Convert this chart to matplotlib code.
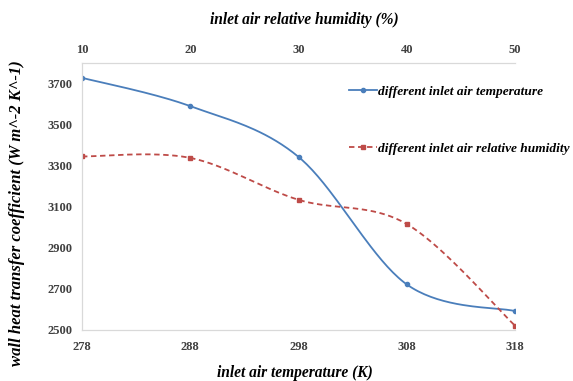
import numpy as np
import matplotlib.pyplot as plt

# inlet conditions
temperature_K = [278, 288, 298, 308, 318]
humidity_pct = [10, 20, 30, 40, 50]

# wall heat transfer coefficient (W m^-2 K^-1)
h_vs_temperature = [3728, 3590, 3343, 2722, 2592]
h_vs_humidity = [3345, 3338, 3134, 3016, 2521]

BLUE = "#4a7ebb"
RED = "#be4b48"


def smooth(x, y, n=40):
    # excel-style smoothed line: cubic bezier with catmull-rom tangents
    x = np.asarray(x, float)
    y = np.asarray(y, float)
    px = np.r_[x[0], x, x[-1]]
    py = np.r_[y[0], y, y[-1]]
    xs, ys = [], []
    t = np.linspace(0, 1, n)[:, None]
    for i in range(1, len(px) - 2):
        p0 = np.array([px[i], py[i]])
        p3 = np.array([px[i + 1], py[i + 1]])
        p1 = p0 + (np.array([px[i + 1], py[i + 1]]) - np.array([px[i - 1], py[i - 1]])) / 6
        p2 = p3 - (np.array([px[i + 2], py[i + 2]]) - np.array([px[i], py[i]])) / 6
        b = ((1 - t) ** 3) * p0 + 3 * ((1 - t) ** 2) * t * p1 + 3 * (1 - t) * t ** 2 * p2 + t ** 3 * p3
        xs.append(b[:, 0])
        ys.append(b[:, 1])
    return np.concatenate(xs), np.concatenate(ys)


plt.rcParams["font.family"] = ["Liberation Serif", "DejaVu Serif"]

fig = plt.figure(figsize=(5.73, 3.81), dpi=100)
ax = fig.add_axes([0.1431, 0.1339, 0.7557, 0.7007])
ax2 = ax.twiny()

sx, sy = smooth(temperature_K, h_vs_temperature)
ax.plot(sx, sy, color=BLUE, lw=1.3)
ax.plot(temperature_K, h_vs_temperature, "o", color=BLUE, ms=3)

hx, hy = smooth(humidity_pct, h_vs_humidity)
ax2.plot(hx, hy, color=RED, lw=1.3, ls=(0, (3, 2)))
ax2.plot(humidity_pct, h_vs_humidity, "s", color=RED, ms=3)

ax.set_xlim(278, 318)
ax2.set_xlim(10, 50)
ax.set_ylim(2500, 3800)
ax.set_xticks(temperature_K)
ax2.set_xticks(humidity_pct)
ax.set_yticks(np.arange(2500, 3800, 200))

tick_font = dict(fontsize=9, fontweight="bold", color="#404040")
ax.set_xticklabels([str(v) for v in temperature_K], **tick_font)
ax2.set_xticklabels([str(v) for v in humidity_pct], **tick_font)
ax.set_yticklabels([str(v) for v in np.arange(2500, 3800, 200)], **tick_font)
ax.tick_params(axis="x", length=0, pad=8)
ax.tick_params(axis="y", length=0, pad=7)
ax2.tick_params(length=0, pad=5)

for a in (ax, ax2):
    for side in ("left", "bottom", "top"):
        a.spines[side].set_color("#d9d9d9")
    a.spines["right"].set_visible(False)

label_font = dict(fontsize=11.2, fontweight="bold", style="italic")
fig.text(0.515, 0.021, "inlet air temperature (K)", ha="center", va="center", **label_font)
fig.text(0.531, 0.948, "inlet air relative humidity (%)", ha="center", va="center", **label_font)
fig.text(0.030, 0.44, "wall heat transfer coefficient (W m^-2 K^-1)", rotation=90,
         ha="center", va="center", fontsize=12, fontweight="bold", style="italic")

handles = [
    plt.Line2D([], [], color=BLUE, lw=1.3, marker="o", ms=3),
    plt.Line2D([], [], color=RED, lw=1.3, ls=(0, (3, 2)), marker="s", ms=3),
]
fig.legend(handles, ["different inlet air temperature", "different inlet air relative humidity"],
           loc="upper left", bbox_to_anchor=(0.609, 0.776), frameon=False,
           prop=dict(family="Liberation Serif", size=9.6, weight="bold", style="italic"),
           handlelength=2.1, handletextpad=0.1, labelspacing=3.35,
           borderpad=0, borderaxespad=0)

fig.savefig("out.png", dpi=100)
